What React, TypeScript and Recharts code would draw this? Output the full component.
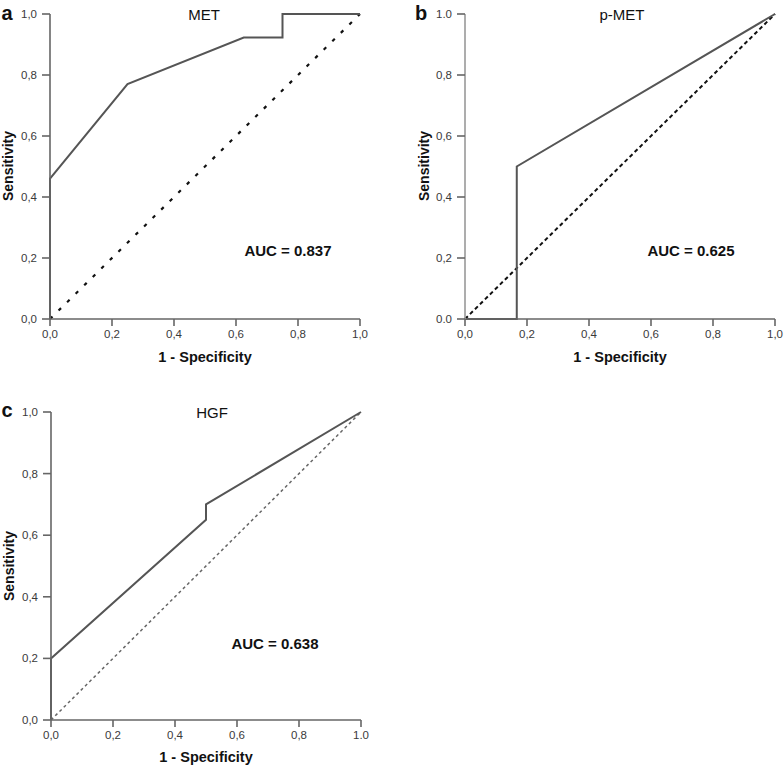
import { LineChart, Line, XAxis, YAxis } from 'recharts';

const FONT = '"Liberation Sans", Arial, sans-serif';

// axis ticks and their printed labels
const ticks = [0, 0.2, 0.4, 0.6, 0.8, 1];
const xLabelsA = ['0,0', '0,2', '0,4', '0,6', '0,8', '1,0'];
const yLabelsA = ['0,0', '0,2', '0,4', '0,6', '0,8', '1,0'];
const xLabelsB = ['0,0', '0,2', '0,4', '0,6', '0,8', '1,0'];
const yLabelsB = ['0.0', '0,2', '0,4', '0,6', '0,8', '1.0'];
const xLabelsC = ['0,0', '0,2', '0,4', '0,6', '0,8', '1.0'];
const yLabelsC = ['0,0', '0,2', '0,4', '0,6', '0,8', '1,0'];

// ROC curves: 1 - specificity vs sensitivity
const metFpr = [0, 0, 0.25, 0.625, 0.75, 0.75, 1];
const metTpr = [0, 0.46, 0.77, 0.923, 0.923, 1, 1];
const pmetFpr = [0, 0.167, 0.167, 1];
const pmetTpr = [0, 0, 0.5, 1];
const hgfFpr = [0, 0, 0.5, 0.5, 1];
const hgfTpr = [0, 0.2, 0.65, 0.7, 1];

const refFpr = [0, 1];
const refTpr = [0, 1];

const toPoints = (xs: number[], ys: number[]) => xs.map((x, i) => ({ x, y: ys[i] }));

type PanelProps = {
  left: number;
  top: number;
  width: number;
  height: number;
  marginTop: number;
  marginRight: number;
  yWidth: number;
  xHeight: number;
  curve: { x: number; y: number }[];
  xLabels: string[];
  yLabels: string[];
  dash: string;
  dashColor: string;
  dashWidth: number;
  yAxisColor: string;
};

function RocPanel(p: PanelProps) {
  const tick = { fill: '#3a3a3a', fontSize: 11.5, fontFamily: FONT };
  return (
    <div style={{ position: 'absolute', left: p.left, top: p.top }}>
      <LineChart
        width={p.width}
        height={p.height}
        margin={{ top: p.marginTop, right: p.marginRight, bottom: 0, left: 0 }}
      >
        <XAxis
          type="number"
          dataKey="x"
          domain={[0, 1]}
          ticks={ticks}
          interval={0}
          height={p.xHeight}
          tick={tick}
          tickSize={7}
          tickMargin={4}
          tickFormatter={(v: number) => p.xLabels[ticks.indexOf(v)]}
          axisLine={{ stroke: '#666', strokeWidth: 1.6 }}
          tickLine={{ stroke: '#666', strokeWidth: 1.6 }}
        />
        <YAxis
          type="number"
          dataKey="y"
          domain={[0, 1]}
          ticks={ticks}
          interval={0}
          width={p.yWidth}
          tick={tick}
          tickSize={8}
          tickMargin={5}
          tickFormatter={(v: number) => p.yLabels[ticks.indexOf(v)]}
          axisLine={{ stroke: p.yAxisColor, strokeWidth: 1.6 }}
          tickLine={{ stroke: '#666', strokeWidth: 1.6 }}
        />
        <Line
          data={toPoints(refFpr, refTpr)}
          dataKey="y"
          type="linear"
          stroke={p.dashColor}
          strokeWidth={p.dashWidth}
          strokeDasharray={p.dash}
          dot={false}
          isAnimationActive={false}
        />
        <Line
          data={p.curve}
          dataKey="y"
          type="linear"
          stroke="#555"
          strokeWidth={2}
          dot={false}
          isAnimationActive={false}
        />
      </LineChart>
    </div>
  );
}

function Txt({
  x,
  y,
  children,
  size,
  bold,
  rotate,
}: {
  x: number;
  y: number;
  children: string;
  size: number;
  bold?: boolean;
  rotate?: boolean;
}) {
  return (
    <div
      style={{
        position: 'absolute',
        left: x,
        top: y,
        transform: `translate(-50%, -50%)${rotate ? ' rotate(-90deg)' : ''}`,
        fontFamily: FONT,
        fontSize: size,
        fontWeight: bold ? 'bold' : 'normal',
        color: '#111',
        whiteSpace: 'nowrap',
        lineHeight: 1,
      }}
    >
      {children}
    </div>
  );
}

export default function App() {
  return (
    <div
      style={{
        position: 'absolute',
        left: 0,
        top: 0,
        width: 784,
        height: 767,
        background: '#fff',
        overflow: 'hidden',
      }}
    >
      <RocPanel
        left={0}
        top={0}
        width={400}
        height={380}
        marginTop={14}
        marginRight={40}
        yWidth={50}
        xHeight={61}
        curve={toPoints(metFpr, metTpr)}
        xLabels={xLabelsA}
        yLabels={yLabelsA}
        dash="3.5 8.5"
        dashColor="#111"
        dashWidth={2.2}
        yAxisColor="#666"
      />
      <RocPanel
        left={400}
        top={0}
        width={400}
        height={380}
        marginTop={14}
        marginRight={25}
        yWidth={65}
        xHeight={61}
        curve={toPoints(pmetFpr, pmetTpr)}
        xLabels={xLabelsB}
        yLabels={yLabelsB}
        dash="4 3"
        dashColor="#111"
        dashWidth={2}
        yAxisColor="#999"
      />
      <RocPanel
        left={0}
        top={380}
        width={400}
        height={387}
        marginTop={32}
        marginRight={39}
        yWidth={51}
        xHeight={47}
        curve={toPoints(hgfFpr, hgfTpr)}
        xLabels={xLabelsC}
        yLabels={yLabelsC}
        dash="3 3"
        dashColor="#666"
        dashWidth={1.5}
        yAxisColor="#666"
      />

      <Txt x={7} y={13} size={20} bold>a</Txt>
      <Txt x={204} y={14} size={15}>MET</Txt>
      <Txt x={288} y={250} size={15} bold>AUC = 0.837</Txt>
      <Txt x={8} y={166} size={14} bold rotate>Sensitivity</Txt>
      <Txt x={205} y={357} size={14.5} bold>1 - Specificity</Txt>

      <Txt x={421} y={13} size={20} bold>b</Txt>
      <Txt x={622} y={14} size={15}>p-MET</Txt>
      <Txt x={691} y={250} size={15} bold>AUC = 0.625</Txt>
      <Txt x={424} y={166} size={14} bold rotate>Sensitivity</Txt>
      <Txt x={620} y={357} size={14.5} bold>1 - Specificity</Txt>

      <Txt x={7} y={410} size={20} bold>c</Txt>
      <Txt x={212} y={412} size={15}>HGF</Txt>
      <Txt x={275} y={643} size={15} bold>AUC = 0.638</Txt>
      <Txt x={9} y={566} size={14} bold rotate>Sensitivity</Txt>
      <Txt x={206} y={757} size={14.5} bold>1 - Specificity</Txt>
    </div>
  );
}
